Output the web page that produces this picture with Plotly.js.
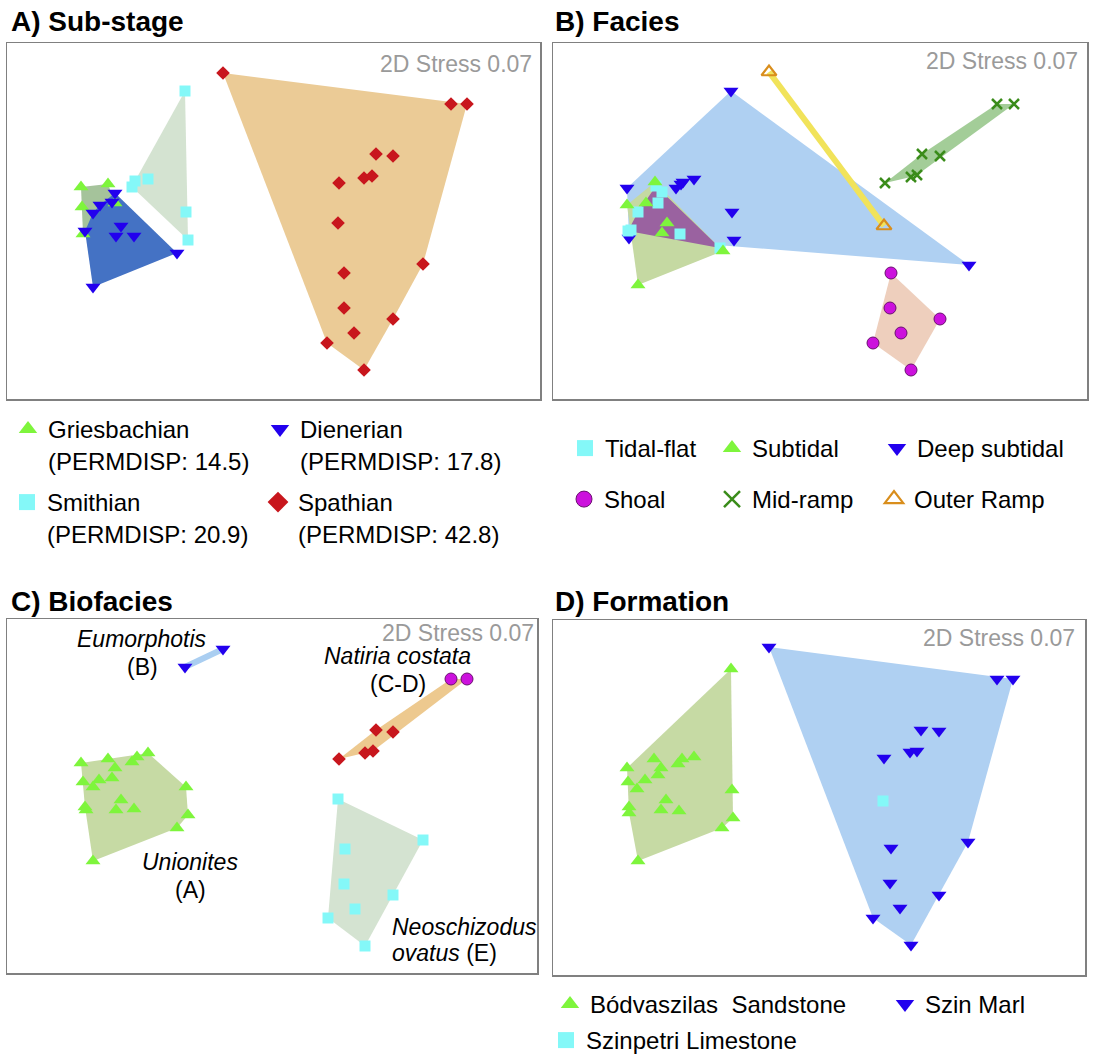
<!DOCTYPE html>
<html><head><meta charset="utf-8">
<script src="https://cdn.plot.ly/plotly-3.0.1.min.js"></script>
<style>html,body{margin:0;padding:0;background:#fff}</style>
</head><body><div id="chart" style="width:1097px;height:1058px"></div>
<script>
// ---- NMDS ordination scores (axis 1 = x, axis 2 = y, screen-oriented) ----
// Panel A: Sub-stage
const griesA_x = [81,108,82,83,115];
const griesA_y = [187,184,207,234,203];
const dienA_x = [115,100,112,93,85,121,116,134,177,93];
const dienA_y = [193,205,202,213,231,226,236,236,253,287];
const smithA_x = [185,148,135,132,186,188];
const smithA_y = [91,179,181,187,212,240];
const spathA_x = [223,451,467,376,393,364,372,339,338,423,344,344,393,354,327,364];
const spathA_y = [73,104,104,154,156,178,176,183,223,264,273,308,319,333,343,370];
// Panel B: Facies
const tidalB_x = [656,662,658,638,631,628,680,720];
const tidalB_y = [186,192,203,212,230,231,234,248];
const subB_x = [655,627,646,667,662,723,638];
const subB_y = [182,205,203,223,233,251,285];
const deepB_x = [731,627,676,681,683,694,732,734,629,969];
const deepB_y = [91,188,188,184,182,179,212,240,238,265];
const shoalB_x = [891,890,940,901,873,911];
const shoalB_y = [273,308,319,333,343,370];
const midB_x = [885,911,917,922,940,997,1014];
const midB_y = [183,177,175,154,156,104,104];
const outerB_x = [769,884];
const outerB_y = [72,226];
// Panel C: Biofacies
const unioC_x = [81,108,115,112,99,93,83,132,137,148,186,121,116,134,85,86,188,177,93];
const unioC_y = [763,759,768,778,780,787,782,762,757,753,787,800,810,809,807,810,815,828,861];
const eumoC_x = [185,223];
const eumoC_y = [667,649];
const natDiaC_x = [376,393,365,373,339];
const natDiaC_y = [730,732,753,751,759];
const natCirC_x = [451,467];
const natCirC_y = [679,679];
const neoC_x = [338,423,345,344,393,355,328,365];
const neoC_y = [799,840,849,884,895,909,918,946];
// Panel D: Formation
const bodD_x = [731,627,654,661,658,645,637,628,682,678,694,732,666,661,679,629,629,733,722,638];
const bodD_y = [669,768,759,768,775,780,789,782,759,764,757,790,800,810,811,807,813,818,828,861];
const szinD_x = [769,997,1013,921,939,910,917,884,968,891,890,939,900,873,911];
const szinD_y = [647,679,679,730,731,752,751,758,842,848,883,895,908,918,945];
const limeD_x = [883];
const limeD_y = [801];

const names = {
  gries: 'Griesbachian<br>(PERMDISP: 14.5)', dien: 'Dienerian<br>(PERMDISP: 17.8)',
  smith: 'Smithian<br>(PERMDISP: 20.9)', spath: 'Spathian<br>(PERMDISP: 42.8)',
  tidal: 'Tidal-flat', sub: 'Subtidal', deep: 'Deep subtidal',
  shoal: 'Shoal', mid: 'Mid-ramp', outer: 'Outer Ramp',
  bod: 'Bódvaszilas\u00a0 Sandstone', szin: 'Szin Marl', lime: 'Szinpetri Limestone'
};

// ---- styles ----
const W = 1097, H = 1058;
const FONT = 'Arial, "Liberation Sans", sans-serif';
const C_GREEN = '#7EF53C', C_BLUE = '#2200EE', C_CYAN = '#84F8F8', C_RED = '#C8161D',
      C_MAG = '#CC11DD', C_MID = '#3A8C1A', C_ORANGE = '#D98E1C';
const sym = {
  tri: (c,s) => ({symbol:'triangle-up', size:s||13, color:c, line:{width:0}}),
  dtri: (c,s) => ({symbol:'triangle-down', size:s||13, color:c, line:{width:0}}),
  sq: (c,s) => ({symbol:'square', size:s||11, color:c, line:{width:0}}),
  dia: (c,s) => ({symbol:'diamond', size:s||10.5, color:c, line:{width:0}}),
  circ: (c,s) => ({symbol:'circle', size:s||12, color:c, line:{width:1, color:'#6a1070'}}),
  x: (c,s) => ({symbol:'x-thin', size:s||10, color:c, line:{width:2.5, color:c}}),
  otri: (c,s) => ({symbol:'triangle-up-open', size:s||13, color:c, line:{width:2.2, color:c}})
};

function convexHull(xs, ys) {
  const p = xs.map((x,i)=>[x, ys[i]]).sort((a,b)=>a[0]-b[0]||a[1]-b[1]);
  const cross = (o,a,b)=>(a[0]-o[0])*(b[1]-o[1])-(a[1]-o[1])*(b[0]-o[0]);
  const lo=[], up=[];
  for (const q of p) { while (lo.length>=2 && cross(lo[lo.length-2],lo[lo.length-1],q)<=0) lo.pop(); lo.push(q); }
  for (let i=p.length-1;i>=0;i--) { const q=p[i]; while (up.length>=2 && cross(up[up.length-2],up[up.length-1],q)<=0) up.pop(); up.push(q); }
  up.pop(); lo.pop();
  const h = lo.concat(up); h.push(h[0]);
  return {x:h.map(q=>q[0]), y:h.map(q=>q[1])};
}
function hullTrace(xs, ys, color, n) {
  const h = convexHull(xs, ys);
  return {type:'scatter', mode:'lines', x:h.x, y:h.y, fill:'toself', fillcolor:color,
          line:{width:0, color:'rgba(0,0,0,0)'}, xaxis:'x'+n, yaxis:'y'+n, showlegend:false, hoverinfo:'skip'};
}
function segTrace(xs, ys, color, width, n) {
  return {type:'scatter', mode:'lines', x:xs, y:ys, line:{width:width, color:color},
          xaxis:'x'+n, yaxis:'y'+n, showlegend:false, hoverinfo:'skip'};
}
function ptTrace(xs, ys, marker, n) {
  return {type:'scatter', mode:'markers', x:xs, y:ys, marker:marker, xaxis:'x'+n, yaxis:'y'+n,
          showlegend:false, hoverinfo:'skip'};
}
// legend-only entry (no data drawn), one legend box per entry so it can sit where the reference puts it
function legTrace(marker, n, name, legendId) {
  return {type:'scatter', mode:'markers', x:[null], y:[null], marker:marker, xaxis:'x'+n, yaxis:'y'+n,
          name:name, showlegend:true, legend:legendId, hoverinfo:'skip'};
}

const traces = [
  // A
  hullTrace(smithA_x, smithA_y, '#D4E3D1', ''),
  hullTrace(spathA_x, spathA_y, '#EBCB96', ''),
  hullTrace(griesA_x, griesA_y, '#A5C39B', ''),
  hullTrace(dienA_x, dienA_y, '#4472C4', ''),
  ptTrace(griesA_x, griesA_y, sym.tri(C_GREEN), ''),
  ptTrace(dienA_x, dienA_y, sym.dtri(C_BLUE), ''),
  ptTrace(smithA_x, smithA_y, sym.sq(C_CYAN), ''),
  ptTrace(spathA_x, spathA_y, sym.dia(C_RED), ''),
  // B
  hullTrace(deepB_x, deepB_y, '#AFD0F2', 2),
  hullTrace(subB_x, subB_y, '#C5D9A2', 2),
  hullTrace(tidalB_x, tidalB_y, '#9A62A0', 2),
  hullTrace(midB_x, midB_y, '#A3CD98', 2),
  hullTrace(shoalB_x, shoalB_y, '#EECFBD', 2),
  segTrace(outerB_x, outerB_y, '#F1E35A', 6, 2),
  ptTrace(deepB_x, deepB_y, sym.dtri(C_BLUE), 2),
  ptTrace(tidalB_x, tidalB_y, sym.sq(C_CYAN), 2),
  ptTrace(subB_x, subB_y, sym.tri(C_GREEN), 2),
  ptTrace(shoalB_x, shoalB_y, sym.circ(C_MAG), 2),
  ptTrace(midB_x, midB_y, sym.x(C_MID), 2),
  ptTrace(outerB_x, outerB_y, sym.otri(C_ORANGE), 2),
  // C
  hullTrace(unioC_x, unioC_y, '#C6DAA4', 3),
  hullTrace(natDiaC_x.concat(natCirC_x), natDiaC_y.concat(natCirC_y), '#EDC98F', 3),
  hullTrace(neoC_x, neoC_y, '#D4E3D1', 3),
  segTrace(eumoC_x, eumoC_y, '#AACEF1', 6, 3),
  ptTrace(unioC_x, unioC_y, sym.tri(C_GREEN), 3),
  ptTrace(eumoC_x, eumoC_y, sym.dtri(C_BLUE), 3),
  ptTrace(natDiaC_x, natDiaC_y, sym.dia(C_RED), 3),
  ptTrace(natCirC_x, natCirC_y, sym.circ(C_MAG), 3),
  ptTrace(neoC_x, neoC_y, sym.sq(C_CYAN), 3),
  // D
  hullTrace(bodD_x, bodD_y, '#C6DAA4', 4),
  hullTrace(szinD_x, szinD_y, '#AFD0F2', 4),
  ptTrace(bodD_x, bodD_y, sym.tri(C_GREEN), 4),
  ptTrace(szinD_x, szinD_y, sym.dtri(C_BLUE), 4),
  ptTrace(limeD_x, limeD_y, sym.sq(C_CYAN), 4),
  // legend entries
  legTrace(sym.tri(C_GREEN,20), '', names.gries, 'legend'),
  legTrace(sym.dtri(C_BLUE,20), '', names.dien, 'legend2'),
  legTrace(sym.sq(C_CYAN,20), '', names.smith, 'legend3'),
  legTrace(sym.dia(C_RED,20), '', names.spath, 'legend4'),
  legTrace(sym.sq(C_CYAN,20), 2, names.tidal, 'legend5'),
  legTrace(sym.tri(C_GREEN,20), 2, names.sub, 'legend6'),
  legTrace(sym.dtri(C_BLUE,20), 2, names.deep, 'legend7'),
  legTrace(sym.circ(C_MAG,20), 2, names.shoal, 'legend8'),
  legTrace(sym.x(C_MID,20), 2, names.mid, 'legend9'),
  legTrace(sym.otri(C_ORANGE,20), 2, names.outer, 'legend10'),
  legTrace(sym.tri(C_GREEN,20), 4, names.bod, 'legend11'),
  legTrace(sym.dtri(C_BLUE,20), 4, names.szin, 'legend12'),
  legTrace(sym.sq(C_CYAN,20), 4, names.lime, 'legend13')
];

// panel frames in page pixels: [left, top, right, bottom]
const frames = [[7,43,540,399],[553,43,1087,399],[7,619,537,973],[553,620,1085,975]];
const layout = {
  width: W, height: H, margin:{l:0,r:0,t:0,b:0,autoexpand:false}, paper_bgcolor:'#fff', plot_bgcolor:'#fff',
  font:{family:FONT, color:'#000'}, annotations:[], showlegend:true
};
frames.forEach((f,i)=>{
  const s = i===0 ? '' : String(i+1);
  const ax = {showgrid:false, zeroline:false, showticklabels:false, ticks:'', showline:true, mirror:true,
              linecolor:'#808080', linewidth:1.5, fixedrange:true};
  layout['xaxis'+s] = Object.assign({}, ax, {domain:[f[0]/W, f[2]/W], range:[f[0], f[2]], anchor:'y'+s});
  layout['yaxis'+s] = Object.assign({}, ax, {domain:[1-f[3]/H, 1-f[1]/H], range:[f[3], f[1]], anchor:'x'+s});
});
const P = (px, py) => ({x: px/W, y: 1-py/H, xref:'paper', yref:'paper'});
function ann(px, py, text, opts) {
  return Object.assign(P(px,py), {text:text, showarrow:false, xanchor:'center', yanchor:'middle',
    font:{family:FONT, size:23, color:'#000'}}, opts||{});
}
const titleFont = {family:FONT, size:28, color:'#000'};
layout.annotations.push(
  ann(9, 22, '<b>A) Sub-stage</b>', {xanchor:'left', font:titleFont}),
  ann(553, 22, '<b>B) Facies</b>', {xanchor:'left', font:titleFont}),
  ann(9, 601, '<b>C) Biofacies</b>', {xanchor:'left', font:titleFont}),
  ann(553, 601, '<b>D) Formation</b>', {xanchor:'left', font:titleFont})
);
const stressFont = {family:FONT, size:23, color:'#9a9a9a'};
[[534,64],[1080,61],[536,633],[1077,638]].forEach(p=>{
  layout.annotations.push(ann(p[0], p[1], '2D Stress 0.07', {xanchor:'right', font:stressFont}));
});
layout.annotations.push(
  ann(142, 639, '<i>Eumorphotis</i>'),
  ann(142, 667, '(B)'),
  ann(190, 862, '<i>Unionites</i>'),
  ann(190, 890, '(A)'),
  ann(397, 656, '<i>Natiria costata</i>'),
  ann(398, 684, '(C-D)'),
  ann(390, 927, '<i>Neoschizodus</i>', {xanchor:'left'}),
  ann(390, 953, '<i>ovatus</i> (E)', {xanchor:'left'})
);
// legend boxes: [symbol centre x, text centre y] in page pixels
const legPos = [[30,430],[282,430],[29,503],[280,503],
                [587,449],[734,449],[899,449],[586,500],[734,500],[896,500],
                [572,1005],[907,1005],[568,1041]];
legPos.forEach((p,i)=>{
  const id = i===0 ? 'legend' : 'legend'+(i+1);
  layout[id] = {x:(p[0]-22)/W, y:1-(p[1]-23)/H, xanchor:'left', yanchor:'top', orientation:'h',
    font:{family:FONT, size:24, color:'#000'}, bgcolor:'rgba(0,0,0,0)', borderwidth:0,
    valign:'top', itemsizing:'trace', itemclick:false, itemdoubleclick:false};
});

Plotly.newPlot('chart', traces, layout, {staticPlot:true, displayModeBar:false});
</script></body></html>
